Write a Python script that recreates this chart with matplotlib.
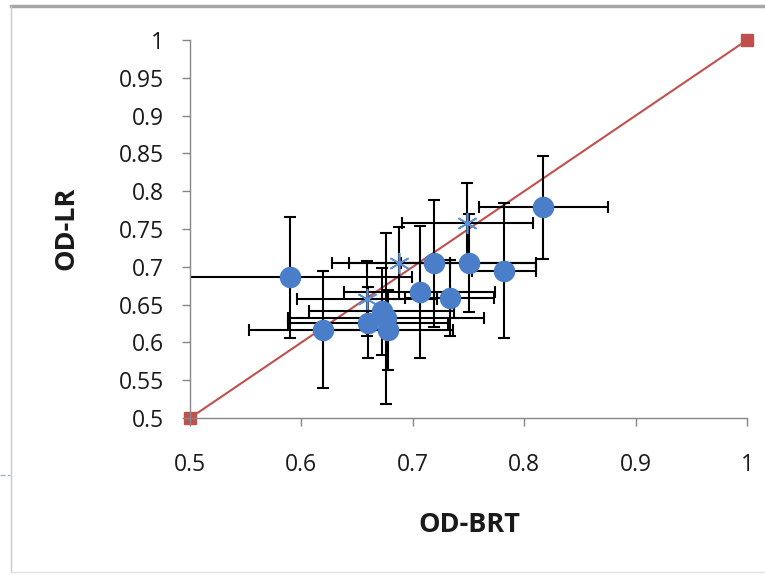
import matplotlib
matplotlib.use("Agg")
import matplotlib.pyplot as plt
from matplotlib.lines import Line2D

# OD-BRT vs OD-LR, means with error bars
circle_x = [0.590, 0.619, 0.660, 0.672, 0.676, 0.678, 0.706, 0.719, 0.733, 0.750, 0.782, 0.817]
circle_y = [0.686, 0.617, 0.626, 0.641, 0.632, 0.617, 0.667, 0.705, 0.659, 0.705, 0.695, 0.779]
circle_xerr = [0.109, 0.066, 0.072, 0.065, 0.088, 0.058, 0.068, 0.092, 0.040, 0.061, 0.029, 0.058]
circle_yerr = [0.080, 0.077, 0.047, 0.057, 0.113, 0.053, 0.087, 0.084, 0.050, 0.065, 0.089, 0.068]

star_x = [0.688, 0.749, 0.659]
star_y = [0.705, 0.758, 0.658]
star_xerr = [0.045, 0.059, 0.063]
star_yerr = [0.048, 0.053, 0.050]

diag_x = [0.5, 1.0]
diag_y = [0.5, 1.0]

ticks_x = [0.5, 0.6, 0.7, 0.8, 0.9, 1.0]
ticks_y = [0.5, 0.55, 0.6, 0.65, 0.7, 0.75, 0.8, 0.85, 0.9, 0.95, 1.0]

plt.rcParams['font.family'] = ['Open Sans', 'DejaVu Sans']

fig = plt.figure(figsize=(7.65, 5.75), dpi=100)
ax = fig.add_axes([0.2484, 0.2730, 0.7281, 0.6574])

ax.plot(diag_x, diag_y, color="#c0504d", linewidth=1.5, marker="s", markersize=8,
        markerfacecolor="#c0504d", markeredgecolor="#c0504d", clip_on=False, zorder=1)

ax.errorbar(star_x, star_y, xerr=star_xerr, yerr=star_yerr, fmt="none", ecolor="black",
            elinewidth=1.5, capsize=4, capthick=1.5, zorder=2)
ax.plot(star_x, star_y, linestyle="none", marker=(6, 2, 0), markersize=15,
        markeredgecolor="#5b8fd6", markeredgewidth=1.2, zorder=3)

ax.errorbar(circle_x, circle_y, xerr=circle_xerr, yerr=circle_yerr, fmt="none", ecolor="black",
            elinewidth=1.5, capsize=4, capthick=1.5, zorder=2)
ax.plot(circle_x, circle_y, linestyle="none", marker="o", markersize=14.5,
        markerfacecolor="#4a7ec8", markeredgecolor="#4a7ec8", zorder=4)

ax.set_xlim(0.5, 1.0)
ax.set_ylim(0.5, 1.0)
ax.set_xticks(ticks_x)
ax.set_yticks(ticks_y)
ax.set_xticklabels(["0.5", "0.6", "0.7", "0.8", "0.9", "1"])
ax.set_yticklabels(["0.5", "0.55", "0.6", "0.65", "0.7", "0.75", "0.8", "0.85", "0.9", "0.95", "1"])

for s in ["top", "right"]:
    ax.spines[s].set_visible(False)
for s in ["left", "bottom"]:
    ax.spines[s].set_color("#868686")
    ax.spines[s].set_linewidth(1.0)
ax.tick_params(axis="both", direction="out", length=6, width=1.0, color="#868686",
               labelsize=16.5, labelcolor="#1a1a1a")
ax.tick_params(axis="y", pad=13)
ax.tick_params(axis="x", pad=19)

ax.set_xlabel("OD-BRT", fontsize=19.5, fontweight="bold", color="#1a1a1a", va="center")
ax.set_ylabel("OD-LR", fontsize=19.5, fontweight="bold", color="#1a1a1a", va="center")
ax.xaxis.set_label_coords(0.501, -0.283)
ax.yaxis.set_label_coords(-0.2226, 0.503)

# chart frame
fig.add_artist(Line2D([0.0144, 1.0], [0.9896, 0.9896], color="#a6a6a6", linewidth=2.5))
fig.add_artist(Line2D([0.0144, 0.0144], [0.005, 0.9896], color="#c8c8c8", linewidth=1.0))
fig.add_artist(Line2D([0.0144, 1.0], [0.005, 0.005], color="#e0e0e0", linewidth=1.0))
fig.add_artist(Line2D([0.0, 0.013], [0.174, 0.174], color="#9fb3cc", linewidth=1.0, linestyle="--"))

fig.savefig("out.png", dpi=100)
